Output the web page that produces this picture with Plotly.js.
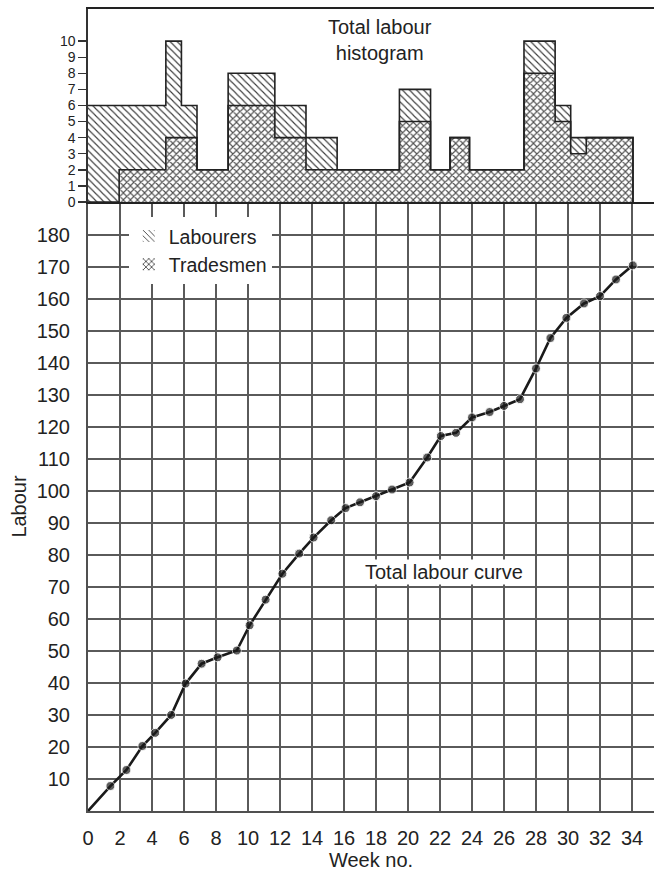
<!DOCTYPE html>
<html>
<head>
<meta charset="utf-8">
<script src="https://cdn.plot.ly/plotly-3.0.1.min.js"></script>
<style>html,body{margin:0;padding:0;background:#fff;}#chart{width:654px;height:877px;}</style>
</head>
<body>
<div id="chart"></div>
<script>
// Histogram (weeks on histogram scale), bar edges and per-interval counts
var histEdges = [0, 2, 5, 6, 7, 9, 12, 14, 16, 20, 22, 23.25, 24.5, 28, 30, 31, 32, 35];
var tradesmen = [0, 2, 4, 4, 2, 6, 4, 2, 2, 5, 2, 4, 2, 8, 5, 3, 4];
var labourers = [6, 4, 6, 2, 0, 2, 2, 2, 0, 2, 0, 0, 0, 2, 1, 1, 0];
var histTicks = [0, 1, 2, 3, 4, 5, 6, 7, 8, 9, 10];

// Total labour curve
var curveWeeks = [0, 1.4, 2.4, 3.4, 4.2, 5.2, 6.1, 7.1, 8.1, 9.3, 10.1, 11.1, 12.15, 13.2, 14.1, 15.2, 16.1, 17.0, 18.0, 19.0, 20.1, 21.2, 22.05, 23.0, 24.0, 25.1, 26.0, 27.0, 28.0, 28.9, 29.9, 31.0, 32.0, 33.0, 34.05];
var curveLabour = [0, 7.8, 12.8, 20.3, 24.4, 30.0, 39.8, 46.0, 48.0, 50.1, 58.0, 66.0, 74.1, 80.4, 85.4, 90.8, 94.6, 96.4, 98.3, 100.4, 102.6, 110.4, 117.1, 118.1, 122.9, 124.6, 126.5, 128.6, 138.2, 147.7, 154.0, 158.5, 160.8, 166.0, 170.4];

var weekTicks = [0, 2, 4, 6, 8, 10, 12, 14, 16, 18, 20, 22, 24, 26, 28, 30, 32, 34];
var labourTicks = [0, 10, 20, 30, 40, 50, 60, 70, 80, 90, 100, 110, 120, 130, 140, 150, 160, 170, 180];

var FONT = 'Liberation Sans, Arial, Helvetica, sans-serif';
var centers = [], widths = [], totals = [];
for (var i = 0; i < tradesmen.length; i++) {
  centers.push((histEdges[i] + histEdges[i + 1]) / 2);
  widths.push(histEdges[i + 1] - histEdges[i]);
  totals.push(tradesmen[i] + labourers[i]);
}

var traces = [
  {
    type: 'bar', name: 'Labourers', x: centers, y: labourers, base: tradesmen, width: widths,
    xaxis: 'x2', yaxis: 'y2', hoverinfo: 'skip',
    marker: { color: '#ffffff', line: { width: 0 },
      pattern: { shape: '\\', size: 5, solidity: 0.22, fgcolor: '#3a3a3a', bgcolor: '#ffffff', fillmode: 'replace' } }
  },
  {
    type: 'bar', name: 'Tradesmen', x: centers, y: tradesmen, width: widths,
    xaxis: 'x2', yaxis: 'y2', hoverinfo: 'skip',
    marker: { color: '#ffffff', line: { width: 0 },
      pattern: { shape: 'x', size: 5, solidity: 0.4, fgcolor: '#505050', bgcolor: '#ffffff', fillmode: 'replace' } }
  },
  {
    type: 'scatter', mode: 'lines', x: histEdges, y: totals.concat([0]), xaxis: 'x2', yaxis: 'y2',
    line: { shape: 'hv', color: '#222', width: 1.6 }, showlegend: false, hoverinfo: 'skip'
  },
  {
    type: 'scatter', mode: 'lines', x: histEdges, y: tradesmen.concat([0]), xaxis: 'x2', yaxis: 'y2',
    line: { shape: 'hv', color: '#222', width: 1.6 }, showlegend: false, hoverinfo: 'skip'
  },
  {
    type: 'scatter', mode: 'lines+markers', x: curveWeeks, y: curveLabour, xaxis: 'x', yaxis: 'y',
    line: { color: '#1a1a1a', width: 2.6 },
    marker: { color: '#1a1a1a', size: curveWeeks.map(function (w, k) { return k === 0 ? 0 : 9; }) },
    showlegend: false, hoverinfo: 'skip'
  }
];

var layout = {
  width: 654, height: 877,
  margin: { l: 88, r: 0, t: 9, b: 66 },
  paper_bgcolor: '#fff', plot_bgcolor: '#fff',
  font: { family: FONT, size: 20, color: '#222' },
  barmode: 'overlay', bargap: 0,
  showlegend: true,
  legend: {
    x: 0.072, y: 0.741, xanchor: 'left', yanchor: 'top', bgcolor: '#fff', borderwidth: 0,
    traceorder: 'normal', font: { family: FONT, size: 19.5, color: '#222' }, tracegroupgap: 0
  },
  xaxis: {
    domain: [0, 1], anchor: 'y', range: [0, 35.375],
    tickvals: weekTicks, ticktext: weekTicks.map(String),
    ticks: 'outside', ticklen: 8, tickcolor: 'rgba(0,0,0,0)',
    showgrid: true, gridcolor: '#5a5a5a', gridwidth: 2, zeroline: false,
    showline: true, linecolor: '#505050', linewidth: 2,
    tickfont: { family: FONT, size: 20, color: '#222' },
    title: { text: 'Week no.', font: { family: FONT, size: 20, color: '#222' }, standoff: 4 }
  },
  yaxis: {
    domain: [0, 0.7594], anchor: 'x', range: [0, 190.2],
    tickvals: labourTicks, ticktext: labourTicks.map(function (v) { return v === 0 ? '' : String(v); }),
    ticks: 'outside', ticklen: 12, tickcolor: 'rgba(0,0,0,0)',
    showgrid: true, gridcolor: '#5a5a5a', gridwidth: 2, zeroline: false,
    showline: true, linecolor: '#505050', linewidth: 2,
    tickfont: { family: FONT, size: 20, color: '#222' },
    title: { text: 'Labour', font: { family: FONT, size: 20, color: '#222' }, standoff: 5 }
  },
  xaxis2: {
    domain: [0, 1], anchor: 'y2', range: [0, 36.35],
    showticklabels: false, ticks: '', showgrid: false, zeroline: false,
    showline: true, mirror: true, linecolor: '#222', linewidth: 2.2
  },
  yaxis2: {
    domain: [0.7594, 1], anchor: 'x2', range: [0, 12],
    tickvals: histTicks, ticktext: histTicks.map(String),
    ticks: 'outside', ticklen: 8, tickcolor: '#333', tickwidth: 1.4,
    showgrid: false, zeroline: false,
    showline: true, linecolor: '#333', linewidth: 1.6,
    tickfont: { family: FONT, size: 14, color: '#222' }
  },
  annotations: [
    {
      xref: 'paper', yref: 'paper', x: (379.5 - 88) / 566, y: (877 - 66 - 40.5) / 802,
      text: 'Total labour<br>histogram', showarrow: false, xanchor: 'center', yanchor: 'middle',
      font: { family: FONT, size: 20, color: '#222' }
    },
    {
      xref: 'x', yref: 'y', x: 22.24, y: 74.7,
      text: 'Total labour curve', showarrow: false, xanchor: 'center', yanchor: 'middle',
      bgcolor: '#fff', borderpad: 1,
      font: { family: FONT, size: 20, color: '#222' }
    }
  ]
};

Plotly.newPlot('chart', traces, layout, { staticPlot: true, displayModeBar: false });
</script>
</body>
</html>
